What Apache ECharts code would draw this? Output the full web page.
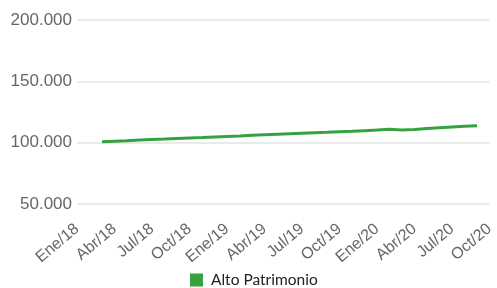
<!DOCTYPE html>
<html>
<head>
<meta charset="utf-8">
<script src="https://cdn.jsdelivr.net/npm/echarts@6/dist/echarts.min.js"></script>
<style>
html,body{margin:0;padding:0;background:#fff;}
#chart{width:497px;height:288px;}
</style>
</head>
<body>
<div id="chart"></div>
<script>
const categories = ["Ene/18","Feb/18","Mar/18","Abr/18","May/18","Jun/18","Jul/18","Ago/18","Sep/18","Oct/18","Nov/18","Dic/18",
  "Ene/19","Feb/19","Mar/19","Abr/19","May/19","Jun/19","Jul/19","Ago/19","Sep/19","Oct/19","Nov/19","Dic/19",
  "Ene/20","Feb/20","Mar/20","Abr/20","May/20","Jun/20","Jul/20","Ago/20","Sep/20","Oct/20"];
const altoPatrimonio = [null,null,100700,101200,101600,102100,102500,102900,103400,103800,104200,104700,
  105100,105500,106000,106400,106800,107200,107600,108000,108400,108900,109300,109800,
  110300,110900,110300,110800,111500,112100,112700,113300,113800,null];
const yTicks = {min:50000,max:200000,interval:50000};
const seriesName = "Alto Patrimonio";

const chart = echarts.init(document.getElementById('chart'), null, {renderer:'canvas'});
chart.setOption({
  animation:false,
  grid:{left:77,right:7,top:20,bottom:84,containLabel:false},
  legend:{
    top:267,left:185,itemWidth:13,itemHeight:13,itemGap:10,padding:5,
    icon:'rect',
    textStyle:{fontFamily:'Lato',fontSize:15.5,color:'#222',padding:[0,0,0,3]},
    data:[seriesName]
  },
  xAxis:{
    type:'category',data:categories,boundaryGap:false,
    axisLine:{show:false},axisTick:{show:false},
    axisLabel:{rotate:40,interval:2,fontFamily:'Liberation Sans',fontSize:16,color:'#666',margin:23},
    splitLine:{show:false}
  },
  yAxis:{
    type:'value',min:yTicks.min,max:yTicks.max,interval:yTicks.interval,
    axisLine:{show:false},axisTick:{show:false},
    axisLabel:{fontFamily:'Liberation Sans',fontSize:17,color:'#666',margin:5,
      formatter:v=>v.toLocaleString('de-DE',{minimumFractionDigits:0}).replace(/,/g,'.')},
    splitLine:{lineStyle:{color:'#e3e3e3',width:1.5}}
  },
  series:[{
    name:seriesName,type:'line',data:altoPatrimonio,showSymbol:false,
    itemStyle:{color:'#36a23f'},
    lineStyle:{color:'#36a23f',width:3},
    connectNulls:false
  }]
});
</script>
</body>
</html>
